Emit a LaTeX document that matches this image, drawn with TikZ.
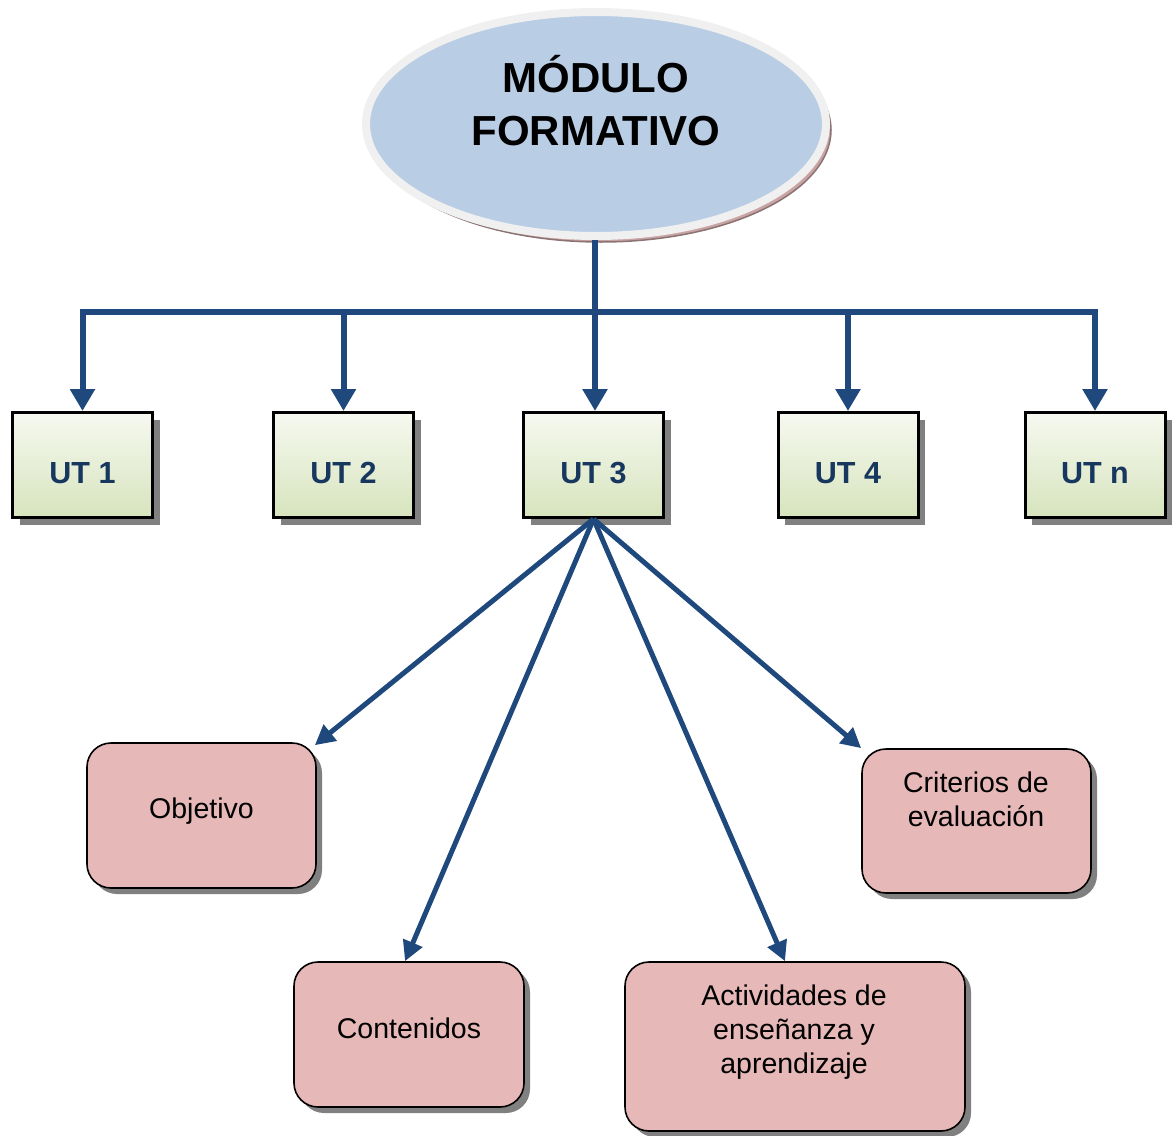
\documentclass[tikz,border=0pt]{standalone}
\usepackage{fontspec}
\setmainfont{Liberation Sans}
\usetikzlibrary{shapes.geometric,shadows,arrows.meta,calc}
\definecolor{arrblue}{HTML}{1F497D}
\definecolor{uttext}{HTML}{17375E}
\definecolor{ellblue}{HTML}{B9CDE5}
\definecolor{ellring}{HTML}{F0F0F0}
\definecolor{ellshadow}{HTML}{C8A4A4}
\definecolor{pinkfill}{HTML}{E6B8B7}
\definecolor{uttop}{HTML}{F6F9F0}
\definecolor{utbot}{HTML}{D7E4BD}
\tikzset{
  utbox/.style={draw=black, line width=3pt, minimum width=140pt, minimum height=105pt,
    top color=uttop, bottom color=utbot, text=uttext,
    text height=37.5pt, text depth=0pt,
    font=\fontsize{30.5}{36}\selectfont\bfseries,
    drop shadow={shadow xshift=7pt, shadow yshift=-7pt, fill=black!50, opacity=1}},
  pinkbox/.style={draw=black, line width=1.6pt, rounded corners=24pt, fill=pinkfill,
    drop shadow={shadow xshift=6pt, shadow yshift=-6pt, fill=black!50, opacity=1}},
  pinktext/.style={font=\fontsize{28.5}{34}\selectfont, align=center, text=black},
  conn/.style={draw=arrblue, line width=6pt},
  arr/.style={draw=arrblue, line width=6pt, -{Triangle[length=22pt,width=24pt]}},
  arrlow/.style={draw=arrblue, line width=5pt, -{Triangle[length=20pt,width=20pt]}}
}
\begin{document}
\begin{tikzpicture}[x=1pt,y=-1pt]
\useasboundingbox (0,0) rectangle (1174,1135);
% ellipse
\node[ellipse, minimum width=460pt, minimum height=224pt, line width=8pt,
  draw=ellring, fill=ellblue,
  drop shadow={shadow xshift=5pt, shadow yshift=-6pt, fill=ellshadow, draw=ellshadow!70!black, line width=1.5pt, opacity=1}]
  (mod) at (596,124) {};
\node[font=\fontsize{42}{53}\selectfont\bfseries, align=center] (modtext) at (596,101) {MÓDULO\\FORMATIVO};
% UT boxes
\node[utbox] (ut1) at (82.5,465) {UT 1};
\node[utbox] (ut2) at (343.5,465) {UT 2};
\node[utbox] (ut3) at (593.5,465) {UT 3};
\node[utbox] (ut4) at (848,465) {UT 4};
\node[utbox] (utn) at (1095,465) {UT n};
% bar
\coordinate (bar) at (595,312);
\draw[conn] (bar |- mod.south) -- (bar);
\draw[conn] ($(ut1.north |- bar)+(-3,0)$) -- ($(utn.north |- bar)+(3,0)$);
\draw[arr] (bar -| ut1.north) -- (ut1.north);
\draw[arr] (bar -| ut2.north) -- (ut2.north);
\draw[arr] (bar) -- (bar |- ut3.north);
\draw[arr] (bar -| ut4.north) -- (ut4.north);
\draw[arr] (bar -| utn.north) -- (utn.north);
% pink boxes
\node[pinkbox, minimum width=229pt, minimum height=145pt] (obj) at (201.5,815.5) {};
\node[pinkbox, minimum width=230pt, minimum height=145pt] (con) at (409,1034.5) {};
\node[pinkbox, minimum width=340pt, minimum height=169pt] (act) at (795,1046.5) {};
\node[pinkbox, minimum width=229pt, minimum height=144pt] (cri) at (976.5,821) {};
\node[pinktext] (objt) at (201.5,811) {Objetivo};
\node[pinktext] (cont) at (409,1028) {Contenidos};
\node[pinktext] (actt) at (794,1032) {Actividades de\\enseñanza y\\aprendizaje};
\node[pinktext] (crit) at (976,799) {Criterios de\\evaluación};
% lower arrows
\draw[arrlow] (ut3.south) -- ($(obj.north east)+(-2,3)$);
\draw[arrlow] (ut3.south) -- ($(con.north)+(-4,0)$);
\draw[arrlow] (ut3.south) -- ($(act.north)+(-10,0)$);
\draw[arrlow] (ut3.south) -- (cri.north west);
\end{tikzpicture}
\end{document}
